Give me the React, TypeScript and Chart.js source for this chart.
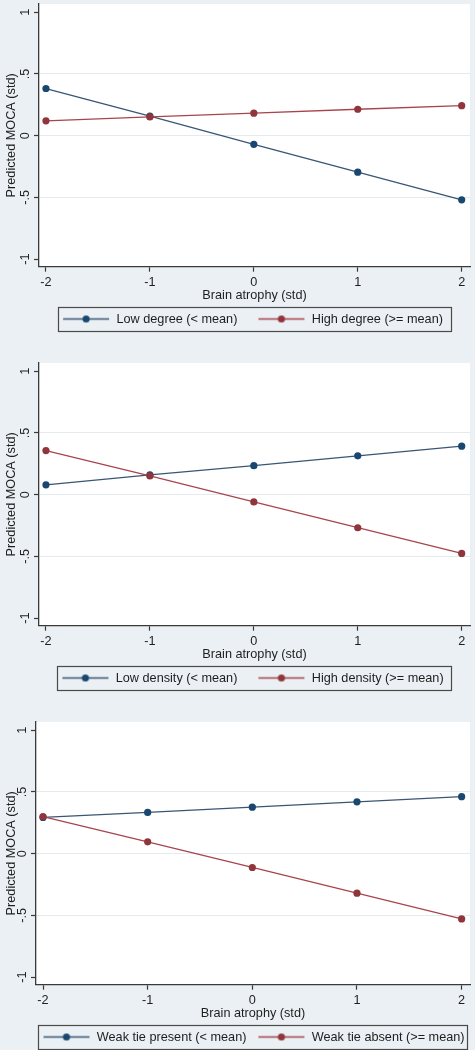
import React, { useEffect, useRef } from "react";
import { Chart, registerables } from "chart.js";

Chart.register(...registerables);

// ---------- data ----------
const atrophyLevels = [-2, -1, 0, 1, 2];
const yTickValues = [-1, -0.5, 0, 0.5, 1];
const xAxisTitle = "Brain atrophy (std)";
const yAxisTitle = "Predicted MOCA (std)";

const degreeLabels = ["Low degree (< mean)", "High degree (>= mean)"];
const lowDegree = [0.382, 0.158, -0.07, -0.296, -0.52];
const highDegree = [0.12, 0.152, 0.182, 0.214, 0.243];

const densityLabels = ["Low density (< mean)", "High density (>= mean)"];
const lowDensity = [0.08, 0.16, 0.235, 0.315, 0.393];
const highDensity = [0.357, 0.152, -0.059, -0.268, -0.476];

const weakTieLabels = ["Weak tie present (< mean)", "Weak tie absent (>= mean)"];
const weakTiePresent = [0.294, 0.334, 0.377, 0.42, 0.462];
const weakTieAbsent = [0.3, 0.096, -0.112, -0.32, -0.529];

// ---------- styles ----------
const BG = "#eaf0f3";
const NAVY = "#1a476f";
const MAROON = "#90353b";
const NAVY_LINE = "#3a5673";
const MAROON_LINE = "#a8444e";
const AXIS = "#3a3a3a";
const GRID = "#e4ebef";
const TEXT = "#1e1e1e";
const FONT_FAMILY = "'Liberation Sans', Arial, sans-serif";
const FONT_SIZE = 12.7;
const CANVAS_W = 475;
const CANVAS_H = 359;
const MARKER_BOX = 52; // legend symbol slot width
const MARKER_IMG_W = 58;
const MARKER_LINE_START = 8;
const MARKER_LINE_LEN = 46;

function fmtTick(v: number): string {
  if (v === 0) return "0";
  const s = String(Math.abs(v)).replace(/^0\./, ".");
  return (v < 0 ? "-" : "") + s;
}

function markerImage(lineColor: string, dotColor: string): HTMLCanvasElement {
  const c = document.createElement("canvas");
  c.width = MARKER_IMG_W;
  c.height = 9;
  const g = c.getContext("2d")!;
  g.strokeStyle = lineColor;
  g.lineWidth = 1.3;
  g.beginPath();
  g.moveTo(MARKER_LINE_START, 4.5);
  g.lineTo(MARKER_LINE_START + MARKER_LINE_LEN, 4.5);
  g.stroke();
  g.fillStyle = dotColor;
  g.beginPath();
  g.arc(MARKER_LINE_START + MARKER_LINE_LEN / 2, 4.5, 3.6, 0, Math.PI * 2);
  g.fill();
  return c;
}

// offset of the drawn legend line from the start of a legend item
const MARKER_OFFSET = MARKER_BOX / 2 - MARKER_IMG_W / 2 + MARKER_LINE_START;

const stataFrame = {
  id: "stataFrame",
  beforeDraw(chart: any) {
    const { ctx, chartArea: a, width, height } = chart;
    ctx.save();
    ctx.fillStyle = BG;
    ctx.fillRect(0, 0, width, height);
    ctx.fillStyle = "#ffffff";
    ctx.fillRect(a.left, a.top, a.right - a.left, a.bottom - a.top);
    ctx.restore();
  },
  afterLayout(chart: any, _args: any, opts: any) {
    const lg = chart.legend;
    const a = chart.chartArea;
    if (!lg) return;
    const pad = lg.options.labels.padding;
    const boxExtra = (opts.boxRight - (MARKER_OFFSET - 5)) / 2;
    const dx = (a.left + a.right) / 2 - (lg.left + lg.right) / 2 - boxExtra;
    const dy = a.bottom + 52.3 - (lg.top + pad + FONT_SIZE / 2);
    lg.left += dx;
    lg.right += dx;
    lg.top += dy;
    lg.bottom += dy;
  },
  afterDraw(chart: any, _args: any, opts: any) {
    const lg = chart.legend;
    if (!lg || !lg.lineWidths) return;
    const { ctx } = chart;
    const pad = lg.options.labels.padding;
    const start = (lg.left + pad + lg.right - lg.lineWidths[0]) / 2;
    const contentW = lg.lineWidths[0] - pad;
    const cy = lg.top + pad + FONT_SIZE / 2;
    const x0 = start + MARKER_OFFSET - 5;
    const x1 = start + contentW + opts.boxRight;
    ctx.save();
    ctx.strokeStyle = "#4a4a4a";
    ctx.lineWidth = 1.2;
    ctx.strokeRect(Math.round(x0) + 0.5, Math.round(cy - 12) + 0.5, Math.round(x1 - x0), 24);
    ctx.restore();
  },
};

interface PanelProps {
  labels: string[];
  blue: number[];
  red: number[];
  axisWidth: number;
  legendGap: number;
  boxRight: number;
}

function Panel({ labels, blue, red, axisWidth, legendGap, boxRight }: PanelProps) {
  const ref = useRef<HTMLCanvasElement | null>(null);
  useEffect(() => {
    if (!ref.current) return;
    const markers = [markerImage(NAVY_LINE, NAVY), markerImage(MAROON_LINE, MAROON)];
    const font = { family: FONT_FAMILY, size: FONT_SIZE };
    // legend box height is itemHeight + padding + 10; keep the plot bottom fixed
    const bottomPad = 56.3 - (FONT_SIZE + legendGap + 10);
    const chart = new Chart(ref.current, {
      type: "line",
      data: {
        datasets: [
          {
            label: labels[0],
            data: atrophyLevels.map((x, i) => ({ x, y: blue[i] })),
            borderColor: NAVY_LINE,
            backgroundColor: NAVY,
            pointBackgroundColor: NAVY,
            pointBorderWidth: 0,
            pointRadius: 3.6,
            borderWidth: 1.3,
            tension: 0,
            order: 1,
          },
          {
            label: labels[1],
            data: atrophyLevels.map((x, i) => ({ x, y: red[i] })),
            borderColor: MAROON_LINE,
            backgroundColor: MAROON,
            pointBackgroundColor: MAROON,
            pointBorderWidth: 0,
            pointRadius: 3.6,
            borderWidth: 1.3,
            tension: 0,
            order: 0,
          },
        ],
      },
      options: {
        animation: false,
        responsive: false,
        devicePixelRatio: 1,
        layout: { padding: { top: 1, left: 0, right: 5, bottom: bottomPad } },
        scales: {
          x: {
            type: "linear",
            min: -2.067,
            max: 2.08,
            afterBuildTicks: (s: any) => {
              s.ticks = atrophyLevels.map((v) => ({ value: v }));
            },
            afterFit: (s: any) => {
              s.height = 36;
              s.paddingLeft = 0;
              s.paddingRight = 0;
            },
            ticks: {
              font,
              color: TEXT,
              padding: 2.7,
              maxRotation: 0,
              autoSkip: false,
              callback: (v: any) => fmtTick(Number(v)),
            },
            grid: {
              drawOnChartArea: false,
              drawTicks: true,
              tickLength: 5,
              tickColor: AXIS,
              tickWidth: 1.2,
              color: AXIS,
            },
            border: { display: true, color: AXIS, width: 1.3 },
            title: {
              display: true,
              text: xAxisTitle,
              font,
              color: TEXT,
              padding: { top: 0, bottom: 0 },
            },
          },
          y: {
            type: "linear",
            min: -1.062,
            max: 1.067,
            afterBuildTicks: (s: any) => {
              s.ticks = yTickValues.map((v) => ({ value: v }));
            },
            afterFit: (s: any) => {
              s.width = axisWidth;
              s.paddingTop = 0;
              s.paddingBottom = 0;
            },
            ticks: {
              font,
              color: TEXT,
              padding: 1.6,
              minRotation: 90,
              maxRotation: 90,
              crossAlign: "center",
              autoSkip: false,
              callback: (v: any) => fmtTick(Number(v)),
            },
            grid: {
              drawOnChartArea: true,
              drawTicks: true,
              tickLength: 5,
              tickColor: AXIS,
              tickWidth: 1.2,
              lineWidth: 1,
              color: (c: any) =>
                c.tick && Math.abs(c.tick.value) === 1 ? "rgba(0,0,0,0)" : GRID,
            },
            border: { display: true, color: AXIS, width: 1.3 },
            title: {
              display: true,
              text: yAxisTitle,
              font,
              color: TEXT,
              padding: { top: 3.4, bottom: 0 },
            },
          },
        },
        plugins: {
          tooltip: { enabled: false },
          stataFrame: { boxRight },
          legend: {
            display: true,
            position: "bottom",
            labels: {
              font,
              color: TEXT,
              padding: legendGap,
              usePointStyle: true,
              pointStyleWidth: MARKER_BOX,
              generateLabels: (ch: any) => {
                const items = (Chart as any).defaults.plugins.legend.labels.generateLabels(ch);
                items.forEach((it: any) => {
                  it.pointStyle = markers[it.datasetIndex];
                });
                return items;
              },
              sort: (a: any, b: any) => a.datasetIndex - b.datasetIndex,
            },
          },
        },
      } as any,
      plugins: [stataFrame],
    });
    return () => chart.destroy();
  }, [labels, blue, red, axisWidth, legendGap, boxRight]);
  return (
    <canvas
      ref={ref}
      width={CANVAS_W}
      height={CANVAS_H}
      style={{ display: "block", width: CANVAS_W, height: CANVAS_H }}
    />
  );
}

export default function App() {
  return (
    <div
      style={{
        position: "fixed",
        left: 0,
        top: 0,
        width: CANVAS_W,
        height: 1050,
        overflow: "hidden",
        background: BG,
      }}
    >
      <Panel labels={degreeLabels} blue={lowDegree} red={highDegree} axisWidth={39} legendGap={16} boxRight={8} />
      <Panel labels={densityLabels} blue={lowDensity} red={highDensity} axisWidth={39} legendGap={16} boxRight={8} />
      <Panel labels={weakTieLabels} blue={weakTiePresent} red={weakTieAbsent} axisWidth={36} legendGap={7} boxRight={3} />
    </div>
  );
}
